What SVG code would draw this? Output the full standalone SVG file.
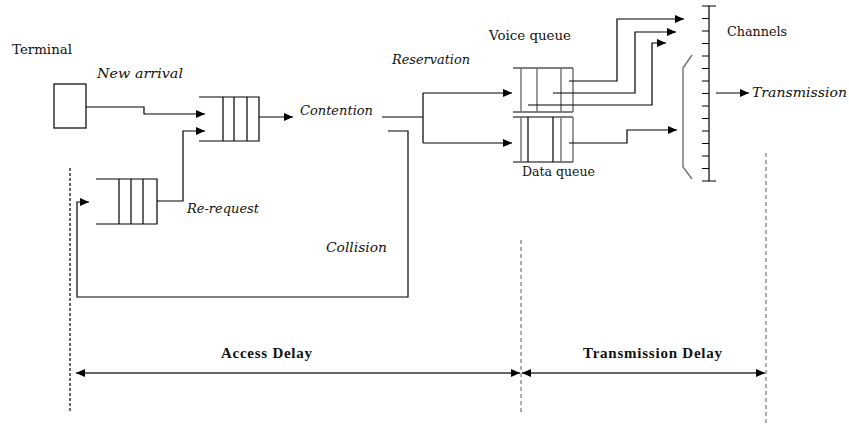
<svg xmlns="http://www.w3.org/2000/svg" width="849" height="425" viewBox="0 0 849 425">
<style>
  text { font-family: "DejaVu Serif", "Liberation Serif", serif; font-size: 13px; fill: #111; }
  .it { font-style: italic; }
  .bd { font-weight: bold; font-family: "Liberation Serif", serif; font-size: 15px; }
  .ln { fill: none; stroke: #000; stroke-width: 1.2; }
  .gl { fill: none; stroke: #777; stroke-width: 1.5; }
  .arr { fill: none; stroke: #000; stroke-width: 1.2; marker-end: url(#ah); }
  .dim { fill: none; stroke: #666; stroke-width: 2; marker-start: url(#ahs); marker-end: url(#ah2); }
</style>
<defs>
  <marker id="ah" markerUnits="userSpaceOnUse" markerWidth="10" markerHeight="8" refX="9" refY="4" orient="auto">
    <path d="M0,0 L9,4 L0,8 z" fill="#000"/>
  </marker>
  <marker id="ah2" markerUnits="userSpaceOnUse" markerWidth="10" markerHeight="8" refX="9" refY="4" orient="auto">
    <path d="M0,0 L9,4 L0,8 z" fill="#000"/>
  </marker>
  <marker id="ahs" markerUnits="userSpaceOnUse" markerWidth="10" markerHeight="8" refX="0" refY="4" orient="auto">
    <path d="M9,0 L0,4 L9,8 z" fill="#000"/>
  </marker>
</defs>
<rect width="849" height="425" fill="#fff"/>

<g id="terminal">
  <rect x="54" y="84" width="32" height="44" class="ln"/>
  <text x="12" y="54" textLength="60" lengthAdjust="spacingAndGlyphs">Terminal</text>
</g>

<g id="contention-queue">
  <path class="ln" d="M199,97 H259 V141 H199 M223,97 V141 M234,97 V141 M247,97 V141"/>
  <text class="it" x="300" y="115" textLength="73" lengthAdjust="spacingAndGlyphs">Contention</text>
</g>

<g id="rerequest-queue">
  <path class="ln" d="M96,179 H157 V224 H96 M119,179 V224 M131,179 V224 M143,179 V224"/>
  <text class="it" x="187" y="213" textLength="72" lengthAdjust="spacingAndGlyphs">Re-request</text>
</g>

<g id="voice-queue">
  <path class="ln" d="M513,68 H573 M513,112 H573"/>
  <path class="gl" d="M521,68 V112 M537,68 V112 M561,68 V112 M573,68 V112"/>
  <text x="489" y="40" textLength="82" lengthAdjust="spacingAndGlyphs">Voice queue</text>
</g>

<g id="data-queue">
  <path class="ln" d="M513,117 H573 M513,162 H573 M528,117 V162 M553,117 V162"/>
  <path class="gl" d="M521,117 V162 M561,117 V162 M573,117 V162"/>
  <text x="522" y="176" textLength="73" lengthAdjust="spacingAndGlyphs">Data queue</text>
</g>

<g id="channels">
  <path class="ln" d="M709,6 V181 M702,6 H716 M702,181 H716
    M702,18.5 H709 M702,31 H709 M702,43.5 H709 M702,56 H709 M702,68.5 H709 M702,81 H709 M702,93.5 H709
    M702,106 H709 M702,118.5 H709 M702,131 H709 M702,143.5 H709 M702,156 H709 M702,168.5 H709"/>
  <path class="gl" d="M692,55 L683,68 V167 L692,179"/>
  <text x="727" y="36" textLength="60" lengthAdjust="spacingAndGlyphs">Channels</text>
</g>

<g id="labels">
  <text class="it" x="97" y="78" textLength="86" lengthAdjust="spacingAndGlyphs">New arrival</text>
  <text class="it" x="392" y="64" textLength="78" lengthAdjust="spacingAndGlyphs">Reservation</text>
  <text class="it" x="326" y="252" textLength="61" lengthAdjust="spacingAndGlyphs">Collision</text>
  <text class="it" x="752" y="97" textLength="95" lengthAdjust="spacingAndGlyphs">Transmission</text>
  <text class="bd" x="221" y="358" textLength="91">Access Delay</text>
  <text class="bd" x="583" y="358" textLength="139">Transmission Delay</text>
</g>

<g id="connectors">
  <path class="arr" d="M86,107 H144 V114 H205"/>
  <path class="arr" d="M157,201 H183 V131 H205"/>
  <path class="arr" d="M259,117 H293"/>
  <path class="ln" d="M382,117 H423 M423,93 V143"/>
  <path class="arr" d="M423,93 H512"/>
  <path class="arr" d="M423,143 H512"/>
  <path class="arr" d="M388,131 H408 V297 H77 V202 H89"/>
  <path class="arr" d="M569,81 H617 V19 H684"/>
  <path class="arr" d="M553,93 H635 V32 H676"/>
  <path class="arr" d="M528,105 H652 V43 H666"/>
  <path class="arr" d="M569,143 H627 V130 H677"/>
  <path class="arr" d="M716,93 H749"/>
  <path d="M70,168 V413" fill="none" stroke="#333" stroke-width="1.5" stroke-dasharray="3,2"/>
  <path d="M521,240 V413" fill="none" stroke="#777" stroke-width="1.2" stroke-dasharray="4,3"/>
  <path d="M766,153 V425" fill="none" stroke="#777" stroke-width="1.2" stroke-dasharray="4,3"/>
  <path class="dim" d="M76,373 H520"/>
  <path class="dim" d="M522,373 H765"/>
</g>
</svg>
